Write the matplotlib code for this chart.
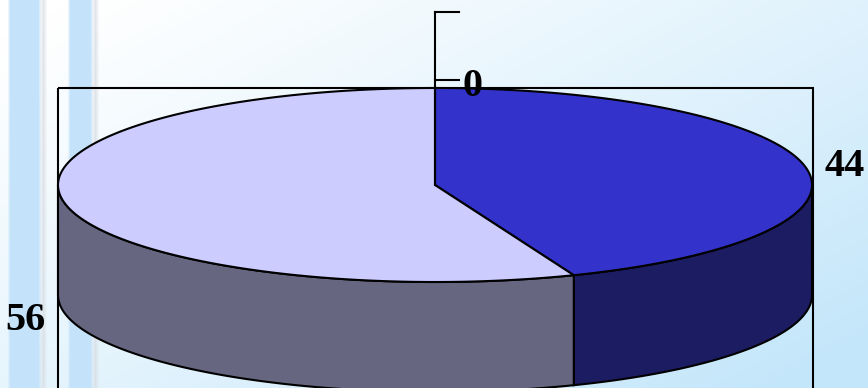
import numpy as np
import matplotlib
matplotlib.use("Agg")
import matplotlib.pyplot as plt
from matplotlib.patches import Polygon, Rectangle

# данные диаграммы
labels = ["44", "56", "0"]
values = [44, 56, 0]
top_colors = ["#3333cc", "#ccccff", "#9999ff"]
side_colors = ["#1c1c63", "#666680", "#55557a"]

W, H = 868, 388
cx, cy = 435, 185      # центр верхнего эллипса
a, b = 377, 97         # полуоси
depth = 110            # высота "цилиндра"

fig = plt.figure(figsize=(W / 100, H / 100), dpi=100)
ax = fig.add_axes([0, 0, 1, 1])
ax.set_xlim(0, W)
ax.set_ylim(H, 0)
ax.axis("off")

# фон: градиент от белого к голубому + полосы слева
xx, yy = np.meshgrid(np.arange(W), np.arange(H))
t = np.clip(0.6 * xx / W + 0.5 * yy / H - 0.05, 0, 1) ** 1.1
white = np.array([1.0, 1.0, 1.0])
blue = np.array([195, 230, 250]) / 255
bg = white * (1 - t[..., None]) + blue * t[..., None]
stripe = np.array([196, 227, 250]) / 255
shade = np.array([214, 218, 224]) / 255
for x0, x1 in [(8, 40), (68, 92)]:
    m = np.clip(np.minimum(xx - x0 + 1, x1 - xx + 1) / 3, 0, 1)
    bg = bg * (1 - m[..., None]) + stripe * m[..., None]
    s = np.clip(1 - np.abs(xx - (x1 + 3)) / 4, 0, 1) * 0.7
    bg = bg * (1 - s[..., None]) + shade * s[..., None]
ax.imshow(bg, extent=[0, W, H, 0], zorder=0, aspect="auto")

# рамка области построения
ax.add_patch(Rectangle((58, 88), 813 - 58, 400, fill=False, ec="black", lw=1.5, zorder=1))


def pt(theta, dz=0):
    r = np.radians(theta)
    return cx + a * np.cos(r), cy - b * np.sin(r) + dz


total = sum(values)
start = 90.0
slices = []
for i, v in enumerate(values):
    sweep = 360.0 * v / total
    slices.append((start - sweep, start))  # по часовой стрелке от 12 часов
    start -= sweep

# боковые стенки (видна только передняя половина)
for i, (t0, t1) in enumerate(slices):
    lo = t0 % 360
    hi = lo + (t1 - t0)
    for k in (-360, 0, 360):
        s0 = max(lo + k, 180)
        s1 = min(hi + k, 360)
        if s1 - s0 <= 0:
            continue
        th = np.linspace(s0, s1, 200)
        topx, topy = pt(th)
        botx, boty = pt(th[::-1], depth)
        poly = np.column_stack([np.concatenate([topx, botx]), np.concatenate([topy, boty])])
        ax.add_patch(Polygon(poly, closed=True, fc=side_colors[i], ec="black", lw=1.5, zorder=2))

# верхние сектора
for i, (t0, t1) in enumerate(slices):
    if t1 - t0 <= 0:
        continue
    th = np.linspace(t0, t1, 300)
    ex, ey = pt(th)
    poly = np.column_stack([np.concatenate([[cx], ex]), np.concatenate([[cy], ey])])
    ax.add_patch(Polygon(poly, closed=True, fc=top_colors[i], ec="black", lw=1.5, zorder=3))

# подписи значений
font = dict(family=["Liberation Serif", "DejaVu Serif"], fontweight="bold", fontsize=29, zorder=5)
for i, (t0, t1) in enumerate(slices):
    mid = (t0 + t1) / 2
    if values[i] == 0:
        # выноска для нулевого сектора
        tx, ty = pt(mid)
        ax.plot([tx, tx], [cy, 12], color="black", lw=1.5, zorder=4)
        ax.plot([tx, tx + 24], [12, 12], color="black", lw=1.5, zorder=4)
        ax.plot([tx, tx + 24], [80, 80], color="black", lw=1.5, zorder=4)
        ax.text(tx + 38, 86, labels[i], ha="center", va="center", **font)
        continue
    r = np.radians(mid)
    lx = cx + (a + 40) * np.cos(r)
    ly = cy - (b + 10) * np.sin(r) + 2
    if np.sin(r) < 0:
        ly += depth + 3
    ax.text(lx, ly, labels[i], ha="center", va="center", **font)

fig.savefig("out.png", dpi=100)
